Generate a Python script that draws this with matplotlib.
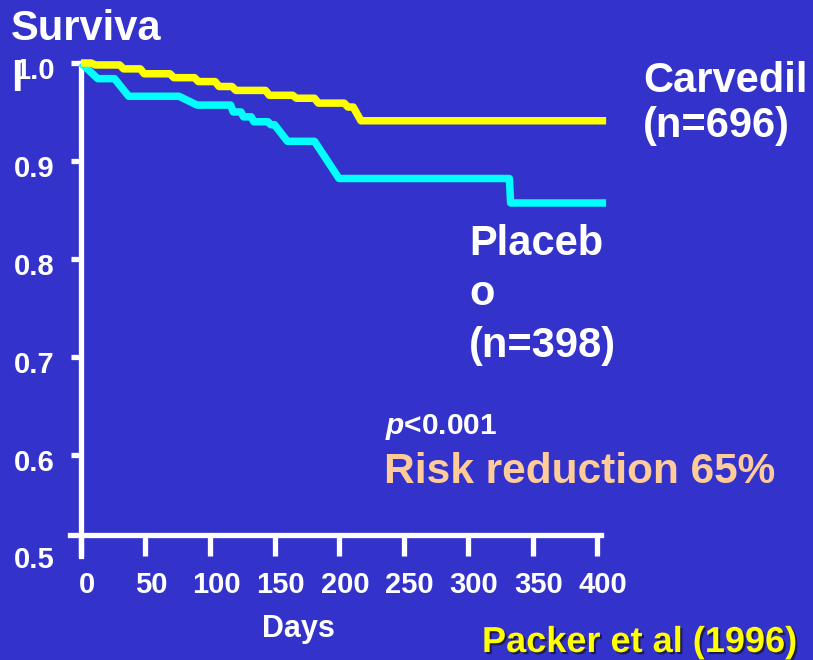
import matplotlib
matplotlib.use('Agg')
import matplotlib.pyplot as plt
import matplotlib.patheffects as pe
from matplotlib import transforms

# ---------------- data ----------------
x_ticks = [0, 50, 100, 150, 200, 250, 300, 350, 400]
x_tick_labels = ['0', '50', '100', '150', '200', '250', '300', '350', '400']
y_ticks = [0.5, 0.6, 0.7, 0.8, 0.9, 1.0]
y_tick_labels = ['0.5', '0.6', '0.7', '0.8', '0.9', '1.0']

carv_days = [0, 8, 11, 30, 33, 46, 49, 69, 72, 88, 91, 104, 107, 117, 120,
             143, 146, 164, 167, 181, 184, 204, 207, 211, 217, 407]
carv_surv = [1.0, 1.0, 0.998, 0.998, 0.994, 0.994, 0.989, 0.989, 0.985, 0.985,
             0.981, 0.981, 0.976, 0.976, 0.972, 0.972, 0.967, 0.967, 0.964, 0.964,
             0.959, 0.959, 0.955, 0.955, 0.941, 0.941]

plac_days = [0, 13, 26, 37, 76, 90, 116, 118, 124, 126, 132, 134, 145, 147,
             150, 160, 181, 200, 332, 333, 407]
plac_surv = [1.0, 0.984, 0.984, 0.966, 0.966, 0.957, 0.957, 0.950, 0.950, 0.945,
             0.945, 0.940, 0.940, 0.937, 0.937, 0.920, 0.920, 0.882, 0.882, 0.857,
             0.857]

# ---------------- style ----------------
W, H = 813, 660
BG = '#3333CC'
WHITE = 'white'
YELLOW = '#FFFF00'
CYAN = '#00FFFF'
PEACH = '#FFCC99'
FONT = 'Liberation Sans'

plt.rcParams['font.family'] = [FONT, 'DejaVu Sans']
plt.rcParams['mathtext.fontset'] = 'custom'
plt.rcParams['mathtext.it'] = 'Liberation Sans:italic:bold'
plt.rcParams['mathtext.rm'] = 'Liberation Sans:bold'

fig = plt.figure(figsize=(W / 100, H / 100), dpi=100, facecolor=BG)
# axes box in pixels: left 70, top 63 (y=1.0), bottom 556
ax = fig.add_axes([70 / W, (H - 556) / H, 540 / W, 493 / H])
ax.set_facecolor(BG)
ax.set_xlim(-8.5, 410)
ax.set_ylim(0.4964, 1.0)

AXIS_Y = 0.518  # where the drawn x-axis crosses (hand drawn slide)

ax.plot(plac_days, plac_surv, color=CYAN, lw=5.4, solid_joinstyle='round',
        solid_capstyle='butt', clip_on=False, zorder=3)
ax.plot(carv_days, carv_surv, color=YELLOW, lw=5.4, solid_joinstyle='round',
        solid_capstyle='butt', clip_on=False, zorder=4)

for s in ['top', 'right']:
    ax.spines[s].set_visible(False)
ax.spines['left'].set_position(('data', 0))
ax.spines['left'].set_bounds(0.4964, 1.0)
ax.spines['bottom'].set_position(('data', AXIS_Y))
ax.spines['bottom'].set_bounds(-8.5, 403)
for s in ['left', 'bottom']:
    ax.spines[s].set_color(WHITE)
    ax.spines[s].set_linewidth(3.8)
    ax.spines[s].set_zorder(2)

ax.set_xticks(x_ticks)
ax.set_xticklabels(x_tick_labels)
ax.set_yticks(y_ticks)
ax.set_yticklabels(y_tick_labels)
ax.tick_params(axis='x', direction='out', length=15, width=3.8, color=WHITE,
               pad=11, labelsize=21, labelcolor=WHITE)
ax.tick_params(axis='y', direction='out', length=7.2, width=3.8, color=WHITE,
               pad=11.5, labelsize=21, labelcolor=WHITE)
# the lowest y tick is not drawn as a mark on the slide (axis crosses higher)
ax.yaxis.get_major_ticks()[0].tick1line.set_visible(False)

for lab in ax.get_xticklabels():
    lab.set_fontweight('bold')
    lab.set_transform(lab.get_transform() +
                      transforms.ScaledTranslation(6 / 100, 0, fig.dpi_scale_trans))
for lab in ax.get_yticklabels():
    lab.set_fontweight('bold')
    lab.set_transform(lab.get_transform() +
                      transforms.ScaledTranslation(0, -5 / 100, fig.dpi_scale_trans))


def txt(px, py, s, size, color=WHITE, **kw):
    return fig.text(px / W, 1 - py / H, s, fontsize=size, color=color,
                    fontweight='bold', ha='left', va='baseline', **kw)


txt(11, 40, 'Surviva', 30)
txt(11, 91, 'l', 30)
txt(643, 92, 'Carvedil', 30)
txt(643, 137, '(n=696)', 30)
txt(469, 255, 'Placeb', 30)
txt(469, 305, 'o', 30)
txt(469, 357, '(n=398)', 30)
txt(385, 434, r'$p$<0.001', 21.5)
txt(384, 483, 'Risk reduction 65%', 30.5, color=PEACH)
txt(262, 637, 'Days', 22)
txt(482, 652, 'Packer et al (1996)', 26, color=YELLOW,
    path_effects=[pe.SimplePatchShadow(offset=(1.5, -1.5),
                                       shadow_rgbFace='#1a1a40', alpha=0.9),
                  pe.Normal()])

fig.savefig('out.png', dpi=100, facecolor=BG)
